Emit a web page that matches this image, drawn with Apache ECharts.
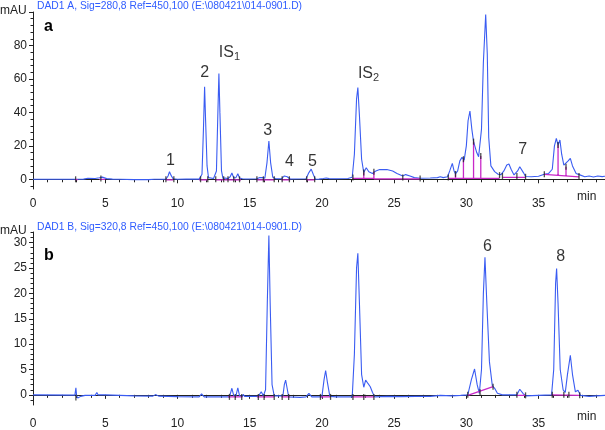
<!DOCTYPE html>
<html>
<head>
<meta charset="utf-8">
<script src="https://cdn.jsdelivr.net/npm/echarts@6/dist/echarts.min.js"></script>
<style>
  html, body { margin: 0; padding: 0; background: #fff; }
  #chart { width: 605px; height: 430px; }
</style>
</head>
<body>
<div id="chart"></div>
<script>
// time ticks (min)
const timeTicks = [0, 5, 10, 15, 20, 25, 30, 35];
const timeMinor = [1, 2, 3, 4, 6, 7, 8, 9, 11, 12, 13, 14, 16, 17, 18, 19, 21, 22, 23, 24,
  26, 27, 28, 29, 31, 32, 33, 34, 36, 37, 38, 39];

// mAU ticks
const yTicksA = [0, 20, 40, 60, 80, 100];
const yLabelsA = [0, 20, 40, 60, 80];
const yMinorA = [-4, 4, 8, 12, 16, 24, 28, 32, 36, 44, 48, 52, 56, 64, 68, 72, 76, 84, 88, 92, 96];
const yTicksB = [0, 5, 10, 15, 20, 25, 30];
const yMinorB = [-1, 1, 2, 3, 4, 6, 7, 8, 9, 11, 12, 13, 14, 16, 17, 18, 19, 21, 22, 23, 24,
  26, 27, 28, 29, 31, 32];

// signal A, 280 nm  [time, mAU]
const traceA = [
  [0, 0], [2.9, 0], [2.95, 0.8], [3.0, -0.5], [3.05, 0], [3.5, 0.1], [3.8, 0.6], [4.3, 0.5],
  [4.6, 0.9], [4.8, 1.3], [4.9, 0.8], [5.1, 0.4], [5.5, 0.1], [6, 0], [7, -0.2], [8, -0.2],
  [8.4, 0], [8.5, 0.4], [8.6, 0], [9.2, 0], [9.35, 2], [9.45, 4.5], [9.55, 2.5], [9.7, 0.3],
  [10, 0], [10.6, 0.1], [10.7, 0.4], [10.8, 0.1], [11.5, 0.1], [11.7, 3], [11.8, 30],
  [11.88, 55.3], [11.95, 35], [12.05, 8], [12.15, 1], [12.5, 0.5], [12.7, 5], [12.8, 40],
  [12.87, 63.3], [12.94, 40], [13.05, 5], [13.15, 0.5], [13.3, 0.8], [13.4, 1.7], [13.5, 0.4],
  [13.65, 1.5], [13.77, 3.8], [13.9, 0.8], [14.05, 1], [14.18, 3.3], [14.3, 0.8], [14.5, 0.3],
  [14.6, 0.6], [14.75, 0.2], [15.5, 0.3], [15.7, 1.1], [15.9, 1.0], [16.05, 0.6], [16.2, 10],
  [16.33, 22.9], [16.45, 10], [16.6, 1.2], [16.8, 0.3], [17.2, 0.3], [17.4, 2], [17.49, 2.4],
  [17.6, 1.5], [17.8, 0.2], [18.9, 0.3], [19.1, 4], [19.26, 6.1], [19.4, 3], [19.55, 0],
  [19.8, 0.1], [20.1, 0.5], [20.3, 0.8], [20.5, 0.4], [21, 0.3], [21.8, 0.5], [22.1, 1.2],
  [22.25, 15], [22.4, 48], [22.49, 54.9], [22.6, 38], [22.75, 12], [22.9, 4], [23.07, 6.9],
  [23.25, 4.5], [23.5, 3.5], [23.7, 4.8], [24, 5.8], [24.5, 5.9], [24.9, 5], [25.2, 3.5],
  [25.6, 2], [25.8, 2.8], [25.9, 3.6], [26.1, 2], [26.4, 1], [26.8, 0.6], [27.5, 0.8], [28, 1],
  [28.2, 1.5], [28.4, 1], [28.7, 1.5], [28.85, 5], [29.03, 9.5], [29.15, 5], [29.25, 3.2],
  [29.4, 5], [29.55, 11], [29.7, 13.1], [29.85, 11.5], [30.0, 20], [30.12, 35], [30.25, 40.8],
  [30.38, 30], [30.5, 22.5], [30.6, 21.5], [30.72, 16], [30.85, 13.5], [30.95, 14], [31.05, 30],
  [31.18, 70], [31.34, 98.5], [31.45, 75], [31.55, 25], [31.7, 8], [31.96, 4.6], [32.2, 3],
  [32.4, 2.8], [32.6, 5], [32.8, 8.5], [32.95, 9.1], [33.1, 6], [33.3, 2.6], [33.55, 5],
  [33.7, 7.5], [33.81, 8.1], [33.95, 4], [34.1, 1.7], [34.5, 1.5], [35, 1.8], [35.4, 3],
  [35.7, 3.5], [35.95, 6], [36.1, 20], [36.23, 24.5], [36.35, 20.5], [36.48, 23.5], [36.6, 15],
  [36.75, 8.5], [36.88, 7.5], [37.05, 11], [37.2, 12.5], [37.35, 8], [37.6, 3.5], [37.9, 2.5],
  [38.2, 1.5], [38.5, 2.0], [38.8, 1.4], [39.1, 2], [39.4, 1.6], [39.6, 1.8]
];

// signal B, 320 nm  [time, mAU]
const traceB = [
  [0, 0], [2.9, -0.05], [2.97, 1.4], [3.02, -0.2], [3.1, -0.6], [3.3, -0.3], [3.6, -0.1],
  [4.3, -0.1], [4.42, 0.45], [4.5, 0], [5, 0], [6, -0.1], [7, -0.2], [8.3, -0.25], [8.48, 0.05],
  [8.7, -0.25], [10, -0.35], [11.5, -0.4], [11.67, 0.2], [11.85, -0.4], [12.8, -0.4], [12.9, -0.2],
  [13.0, -0.4], [13.6, -0.4], [13.77, 1.3], [13.9, -0.2], [14.05, -0.2], [14.18, 1.4], [14.3, -0.2],
  [14.5, -0.3], [14.55, 0.1], [14.65, -0.3], [15.6, -0.3], [15.8, 0.6], [15.95, -0.2], [16.1, 1],
  [16.22, 18], [16.33, 31.4], [16.42, 18], [16.55, 2], [16.7, -0.2], [17.3, -0.2], [17.4, 2],
  [17.49, 2.9], [17.58, 1.5], [17.7, -0.4], [18.5, -0.5], [18.9, -0.4], [19.1, 0.3], [19.3, -0.4],
  [20.0, -0.4], [20.15, 3], [20.26, 4.8], [20.38, 2.5], [20.55, -0.3], [21, -0.4], [22.1, -0.4],
  [22.25, 8], [22.4, 25], [22.49, 27.9], [22.6, 18], [22.75, 4], [22.9, 1.5], [23.03, 2.9],
  [23.2, 2.2], [23.35, 1.6], [23.5, 0.5], [23.65, -0.4], [24.5, -0.3], [25.5, -0.35], [26.5, -0.3],
  [27.5, -0.3], [28.2, -0.1], [28.3, -0.3], [29, -0.2], [29.6, -0.1], [30.1, 0], [30.35, 3],
  [30.57, 5.1], [30.75, 2], [30.9, 0.3], [31.05, 5], [31.18, 20], [31.29, 27.1], [31.42, 18],
  [31.6, 6.5], [31.8, 1.8], [31.96, 1.3], [32.15, 0.3], [32.5, 0], [33.5, 0], [33.7, 1.1],
  [33.81, 1.3], [33.95, 0.2], [34.1, -0.2], [35, -0.1], [35.9, 0], [36.05, 5], [36.18, 22],
  [36.25, 24.9], [36.35, 18], [36.5, 5], [36.7, 1], [36.85, 0.5], [37.0, 4], [37.2, 7.8],
  [37.35, 4], [37.55, 0.6], [37.73, 0.9], [37.9, -0.1], [38.5, -0.3], [39, -0.2], [39.6, -0.1]
];

// integration baselines / drop lines  [t1, v1, t2, v2]
const baseA = [
  [2.9, -0.2, 3.1, -0.2], [4.6, 0, 5.0, 0], [9.2, -0.3, 9.7, -0.3], [11.5, -0.3, 12.1, -0.3],
  [12.6, -0.3, 13.2, -0.3], [13.25, -0.3, 14.4, -0.3], [15.5, -0.3, 16.7, -0.3],
  [17.2, -0.3, 17.8, -0.3], [18.9, -0.3, 19.5, -0.3], [22.1, 0.5, 23.6, 0.5],
  [22.9, 0.5, 22.9, 4], [23.6, 0.5, 23.6, 4.5], [23.6, 0.3, 26.8, 0.2],
  [28.75, 0.6, 32.3, 0.6], [29.25, 0.6, 29.25, 3.2], [29.8, 0.6, 29.8, 12],
  [30.5, 0.6, 30.5, 22.5], [31.0, 0.6, 31.0, 14], [32.5, 1.2, 34.1, 1.2],
  [35.4, 3, 37.8, 1.5], [36.35, 2.4, 36.35, 20.5], [36.9, 2.1, 36.9, 7.5]
];
const baseB = [
  [13.5, -0.4, 14.5, -0.4], [15.5, -0.4, 16.7, -0.4], [17.2, -0.4, 17.8, -0.4],
  [19.9, -0.4, 20.6, -0.4], [22.1, -0.4, 23.6, -0.4], [30.1, -0.1, 31.85, 1.6],
  [33.5, -0.1, 34.1, -0.1], [35.9, 0, 37.8, -0.1]
];

// peak start/end markers  [t, v]
const marksA = [
  [2.95, 0], [4.7, 0.5], [9.2, 0], [9.75, 0], [11.6, 0], [12.1, 0], [12.65, 0], [13.2, 0],
  [13.5, 0], [13.9, 0], [14.3, 0], [15.5, 0], [15.95, 0], [16.7, 0], [17.25, 0], [17.75, 0],
  [18.95, 0], [19.5, 0], [22.15, 1], [22.9, 4], [23.6, 4.5], [25.6, 1], [26.8, 0.5],
  [28.75, 1], [29.25, 3.2], [29.8, 12], [30.5, 22.5], [31.0, 14], [32.3, 2.5], [32.5, 2],
  [33.5, 2], [34.1, 1.5], [35.4, 3], [36.35, 20.5], [36.9, 7.5], [37.8, 2]
];
const marksB = [
  [2.97, -0.5], [13.6, -0.4], [14.0, -0.4], [14.45, -0.4], [15.6, -0.4], [16.0, -0.4],
  [16.7, -0.4], [17.25, -0.4], [17.7, -0.4], [19.9, -0.4], [20.6, -0.4], [22.15, -0.4],
  [22.9, -0.4], [23.6, -0.4], [30.1, 0], [30.95, 0.5], [31.85, 1.6], [33.5, 0], [34.1, -0.1],
  [35.95, 0], [36.75, 0], [37.1, 0], [37.85, -0.1]
];

// peak labels  [t, v, text]
const peakLabelsA = [
  [9.52, 10.9, '1'], [11.88, 63.5, '2'], [13.6, 76, 'IS1'], [16.24, 29.4, '3'],
  [17.76, 10.3, '4'], [19.35, 10.3, '5'], [23.23, 63, 'IS2'], [33.9, 17.5, '7']
];
const peakLabelsB = [
  [31.47, 29.3, '6'], [36.53, 27.2, '8']
];

const FONT = '"Liberation Sans", Arial, sans-serif';
const BLUE = '#3a5cf2';
const MAG = '#c828c8';

function xAxes(grid, margin) {
  return [
    {
      type: 'value', gridIndex: grid, min: 0, max: 39.6, position: 'bottom',
      axisLine: { lineStyle: { color: '#222' } },
      axisTick: { customValues: timeTicks, length: 4, lineStyle: { color: '#222' } },
      axisLabel: { customValues: timeTicks, margin: margin, color: '#222', fontSize: 12, fontFamily: FONT },
      splitLine: { show: false }
    },
    {
      type: 'value', gridIndex: grid, min: 0, max: 39.6, position: 'bottom',
      axisLine: { show: false },
      axisTick: { customValues: timeMinor, length: 3, lineStyle: { color: '#222' } },
      axisLabel: { show: false },
      splitLine: { show: false }
    }
  ];
}

function yAxes(grid, min, max, ticks, labels, minor) {
  return [
    {
      type: 'value', gridIndex: grid, min: min, max: max, position: 'left',
      axisLine: { show: true, lineStyle: { color: '#222' } },
      axisTick: { show: true, customValues: ticks, length: 4, lineStyle: { color: '#222' } },
      axisLabel: { customValues: labels, margin: 6, color: '#222', fontSize: 12, fontFamily: FONT },
      splitLine: { show: false }
    },
    {
      type: 'value', gridIndex: grid, min: min, max: max, position: 'left',
      axisLine: { show: false },
      axisTick: { show: true, customValues: minor, length: 2.5, lineStyle: { color: '#222' } },
      axisLabel: { show: false },
      splitLine: { show: false }
    }
  ];
}

// segments -> one broken polyline
function segPoints(segs) {
  const pts = [];
  segs.forEach(s => {
    pts.push([s[0], s[1]], [s[2], s[3]], [s[2], '-']);
  });
  return pts;
}

function panelSeries(trace, base, marks, labels, axis) {
  return [
    {
      type: 'line', xAxisIndex: axis, yAxisIndex: axis, data: trace,
      showSymbol: false, symbol: 'none', lineStyle: { color: BLUE, width: 1.1 }, z: 2
    },
    {
      type: 'line', xAxisIndex: axis, yAxisIndex: axis, data: segPoints(base),
      connectNulls: false, showSymbol: false, symbol: 'none',
      lineStyle: { color: MAG, width: 1.3 }, z: 3
    },
    {
      type: 'scatter', xAxisIndex: axis, yAxisIndex: axis, data: marks,
      symbol: 'rect', symbolSize: [1.3, 6], itemStyle: { color: '#222' }, z: 4
    },
    {
      type: 'scatter', xAxisIndex: axis, yAxisIndex: axis, data: labels,
      symbolSize: 1, itemStyle: { color: 'transparent' }, z: 5,
      label: {
        show: true, position: 'inside', color: '#000', fontSize: 16, fontFamily: FONT,
        formatter: p => {
          const t = p.data[2];
          return t.indexOf('IS') === 0 ? '{m|IS}{s|' + t.slice(2) + '}' : t;
        },
        rich: {
          m: { fontSize: 16, fontFamily: FONT, color: '#000' },
          s: { fontSize: 11, fontFamily: FONT, color: '#000', padding: [9, 0, 0, 0] }
        }
      }
    }
  ];
}

const chart = echarts.init(document.getElementById('chart'), null, { renderer: 'canvas' });

chart.setOption({
  animation: false,
  backgroundColor: '#fff',
  grid: [
    { left: 33, top: 12, width: 572, height: 177 },
    { left: 33, top: 232, width: 572, height: 177 }
  ],
  xAxis: xAxes(0, 9).concat(xAxes(1, 13)),
  yAxis: yAxes(0, -5.8, 100, yTicksA, yLabelsA, yMinorA)
    .concat(yAxes(1, -2, 32.1, yTicksB, yTicksB, yMinorB)),
  series: panelSeries(traceA, baseA, marksA, peakLabelsA, 0)
    .concat(panelSeries(traceB, baseB, marksB, peakLabelsB, 2)),
  graphic: [
    { type: 'text', left: 37, top: 1, style: { text: 'DAD1 A, Sig=280,8 Ref=450,100 (E:\\080421\\014-0901.D)', fill: '#2f5cff', fontSize: 10.3, fontFamily: FONT } },
    { type: 'text', left: 37, top: 222, style: { text: 'DAD1 B, Sig=320,8 Ref=450,100 (E:\\080421\\014-0901.D)', fill: '#2f5cff', fontSize: 10.3, fontFamily: FONT } },
    { type: 'text', left: 0, top: 5, style: { text: 'mAU', fill: '#222', fontSize: 12, fontFamily: FONT } },
    { type: 'text', left: 0, top: 225, style: { text: 'mAU', fill: '#222', fontSize: 12, fontFamily: FONT } },
    { type: 'text', left: 44, top: 19, style: { text: 'a', fill: '#000', fontSize: 16, fontWeight: 'bold', fontFamily: FONT } },
    { type: 'text', left: 44, top: 248, style: { text: 'b', fill: '#000', fontSize: 16, fontWeight: 'bold', fontFamily: FONT } },
    { type: 'text', left: 577, top: 191, style: { text: 'min', fill: '#222', fontSize: 12, fontFamily: FONT } },
    { type: 'text', left: 577, top: 411, style: { text: 'min', fill: '#222', fontSize: 12, fontFamily: FONT } }
  ]
});
</script>
</body>
</html>
